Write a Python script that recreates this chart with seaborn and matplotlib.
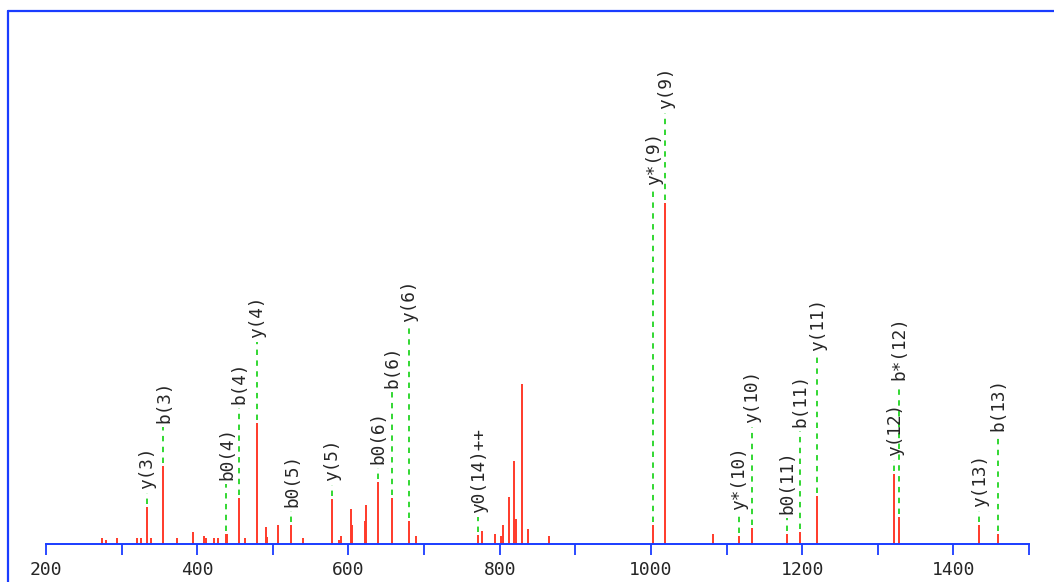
import matplotlib
matplotlib.use("Agg")
import matplotlib.pyplot as plt
from matplotlib.lines import Line2D
import seaborn as sns

# peak list (m/z, relative intensity, base peak = 100)
peak_mz = [274.1, 279.3, 294.3, 319.9, 325.2, 333.2, 338.5, 355.1, 373.6, 394.0,
           408.9, 411.6, 422.2, 427.5, 437.4, 439.8, 454.8, 462.8, 478.6, 490.9,
           492.6, 506.8, 524.4, 539.5, 577.8, 587.9, 590.1, 602.9, 604.7, 621.5,
           623.2, 639.0, 657.2, 680.0, 689.7, 771.3, 776.6, 794.2, 802.1, 804.3,
           811.9, 819.3, 821.5, 829.9, 837.4, 865.6, 1003.1, 1018.6, 1082.4, 1116.0,
           1133.2, 1179.5, 1197.1, 1219.6, 1321.8, 1327.6, 1434.2, 1459.3]
peak_int = [1.8, 1.2, 1.8, 1.8, 1.8, 10.9, 1.8, 22.9, 1.8, 3.5,
            2.3, 1.8, 1.8, 1.8, 2.9, 2.9, 13.5, 1.8, 35.5, 5.0,
            2.1, 5.6, 5.6, 1.8, 13.2, 1.2, 2.3, 10.3, 5.6, 6.7,
            11.4, 18.2, 13.5, 6.7, 2.3, 2.6, 3.8, 2.9, 2.3, 5.6,
            13.8, 24.3, 7.3, 46.9, 4.4, 2.3, 5.6, 100.0, 2.9, 2.3,
            4.7, 2.9, 3.5, 14.1, 20.5, 7.9, 5.6, 2.9]

# assigned fragment ions
ion_labels = ["y(3)", "b(3)", "b0(4)", "b(4)", "y(4)", "b0(5)", "y(5)", "b0(6)",
              "b(6)", "y(6)", "y0(14)++", "y*(9)", "y(9)", "y*(10)", "y(10)",
              "b0(11)", "b(11)", "y(11)", "y(12)", "b*(12)", "y(13)", "b(13)"]
ion_mz = [333.2, 355.1, 438.6, 454.8, 478.6, 524.4, 577.8, 639.0,
          657.2, 680.0, 771.3, 1003.1, 1018.6, 1116.0, 1133.2,
          1179.5, 1197.1, 1219.6, 1321.8, 1327.6, 1434.2, 1459.3]

x_labels = [200, 400, 600, 800, 1000, 1200, 1400]
x_minor = [300, 500, 700, 900, 1100, 1300, 1500]

RED = "#ff3a2a"
GREEN = "#22d422"
BLUE = "#1a3cff"
TEXT = "#262626"

sns.set_theme(style="white")
plt.rcParams["font.family"] = ["DejaVu Sans Mono", "DejaVu Sans"]

W, H = 1054, 582
fig = plt.figure(figsize=(W / 100, H / 100), dpi=100)
ax = fig.add_axes([46 / W, 38 / H, 983 / W, 533 / H])
ax.set_xlim(200, 1500)
ax.set_ylim(0, 156.3)

ax.vlines(peak_mz, 0, peak_int, color=RED, lw=1.4, zorder=2)

sns.despine(ax=ax, left=True)
ax.spines["bottom"].set_color(BLUE)
ax.spines["bottom"].set_linewidth(1.4)
ax.set_yticks([])
ax.set_xticks(x_labels)
ax.set_xticks(x_minor, minor=True)
ax.tick_params(axis="x", which="both", bottom=True, direction="out",
               length=7.7, width=1.3, color=BLUE)
ax.tick_params(axis="x", which="major", labelsize=13, labelcolor=TEXT, pad=4.5)

# outer frame (top and left edges)
fig.add_artist(Line2D([8 / W, 1], [1 - 11 / H, 1 - 11 / H], transform=fig.transFigure,
                      color=BLUE, lw=1.6))
fig.add_artist(Line2D([8 / W, 8 / W], [0, 1 - 11 / H], transform=fig.transFigure,
                      color=BLUE, lw=1.6))

# place labels above peaks, stacking those that sit close together
fig.canvas.draw()
renderer = fig.canvas.get_renderer()
ppu = ax.transData.transform((0, 1))[1] - ax.transData.transform((0, 0))[1]
xpx = lambda m: ax.transData.transform((m, 0))[0]
peak_px = [xpx(m) for m in peak_mz]

placed = []
for name, mz in sorted(zip(ion_labels, ion_mz), key=lambda t: t[1]):
    x = xpx(mz)
    own = max(h for h, p in zip(peak_int, peak_px) if abs(p - x) <= 2.5)
    near = max(h for h, p in zip(peak_int, peak_px) if abs(p - x) <= 13.5)
    base = near * ppu + 18
    for px, top in placed:
        if abs(px - x) <= 25:
            base = max(base, top + 23)
    t = ax.text(mz + 0.8, base / ppu, name, rotation=90, ha="center", va="bottom",
                fontsize=12.8, color=TEXT)
    length = t.get_window_extent(renderer).height
    placed.append((x, base + length))
    ax.plot([mz, mz], [own + 3 / ppu, (base - 4) / ppu], color=GREEN, lw=1.3,
            ls=(0, (3, 3)), zorder=1)

fig.savefig("out.png", dpi=100)
